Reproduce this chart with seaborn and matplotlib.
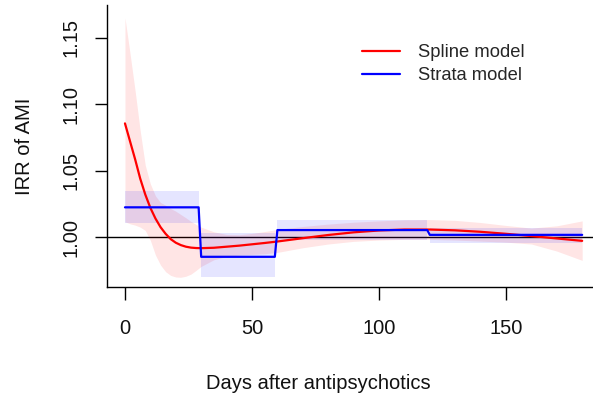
import numpy as np
import pandas as pd
import matplotlib
matplotlib.use("Agg")
import matplotlib.pyplot as plt
import seaborn as sns

# ---- Data ----
spline_day = [0, 2, 4, 6, 8, 10, 12, 14, 16, 18, 20, 22, 24, 26, 28, 30,
              35, 40, 45, 50, 55, 60, 70, 80, 90, 100, 110, 120, 130, 140, 150,
              160, 170, 180]
spline_irr = [1.0855, 1.0720, 1.0585, 1.0440, 1.0320, 1.0220, 1.0140,
              1.0075, 1.0025, 0.9985, 0.9958, 0.9940, 0.9928, 0.9921,
              0.9918, 0.9917, 0.9920, 0.9928, 0.9936, 0.9946, 0.9956, 0.9967,
              0.9992, 1.0016, 1.0036, 1.0050, 1.0057, 1.0057, 1.0051, 1.0040,
              1.0025, 1.0008, 0.9990, 0.9972]
spline_lower = [1.0115, 1.0100, 1.0090, 1.0075, 1.0050, 0.9975, 0.9865,
                0.9790, 0.9740, 0.9712, 0.9700, 0.9698, 0.9706, 0.9722,
                0.9750, 0.9780, 0.9830, 0.9855, 0.9865, 0.9870, 0.9875, 0.9885,
                0.9920, 0.9948, 0.9968, 0.9978, 0.9983, 0.9983, 0.9978, 0.9970,
                0.9962, 0.9948, 0.9895, 0.9825]
spline_upper = [1.1650, 1.1380, 1.1100, 1.0800, 1.0540, 1.0400, 1.0310,
                1.0260, 1.0240, 1.0215, 1.0195, 1.0170, 1.0145, 1.0118,
                1.0095, 1.0075, 1.0040, 1.0020, 1.0018, 1.0028, 1.0042, 1.0058,
                1.0080, 1.0098, 1.0112, 1.0122, 1.0130, 1.0132, 1.0126, 1.0110,
                1.0088, 1.0068, 1.0085, 1.0122]

strata_start = [0, 30, 60, 120]
strata_end = [29, 59, 119, 180]
strata_irr = [1.0224, 0.9852, 1.0053, 1.0017]
strata_lower = [1.0107, 0.9698, 0.9980, 0.9958]
strata_upper = [1.0345, 1.0030, 1.0125, 1.0068]

x_ticks = [0, 50, 100, 150]
y_ticks = [1.00, 1.05, 1.10, 1.15]
y_ticklabels = ["1.00", "1.05", "1.10", "1.15"]

# ---- Style ----
sns.set_theme(style="ticks")
plt.rcParams["font.family"] = ["Liberation Sans", "DejaVu Sans"]

fig = plt.figure(figsize=(5.93, 3.93), dpi=100)
ax = fig.add_axes([0.1799, 0.2697, 0.8327, 0.7176])

# reference line at IRR = 1
ax.axhline(1.0, color="black", lw=1.0, zorder=1)

# spline model
spline_df = pd.DataFrame({"day": spline_day, "irr": spline_irr,
                          "lo": spline_lower, "hi": spline_upper})
ax.fill_between(spline_df["day"], spline_df["lo"], spline_df["hi"],
                color="red", alpha=0.1, lw=0, zorder=2)

# strata model (piecewise constant)
sx, sy = [], []
for s, e, v, lo, hi in zip(strata_start, strata_end, strata_irr,
                           strata_lower, strata_upper):
    ax.fill_between([s, e], [lo, lo], [hi, hi], color="blue", alpha=0.1,
                    lw=0, zorder=2)
    sx += [s, e]
    sy += [v, v]
strata_df = pd.DataFrame({"day": sx, "irr": sy})

sns.lineplot(data=spline_df, x="day", y="irr", color="red", lw=1.6,
             estimator=None, sort=False, ax=ax, label="Spline model", zorder=3)
sns.lineplot(data=strata_df, x="day", y="irr", color="blue", lw=1.6,
             estimator=None, sort=False, ax=ax, label="Strata model", zorder=3)

ax.set_xlim(-7.2, 187.2)
ax.set_ylim(0.9625, 1.1745)
ax.set_xticks(x_ticks)
ax.set_yticks(y_ticks)
ax.set_yticklabels(y_ticklabels, rotation=90, va="center")

for side in ["top", "right"]:
    ax.spines[side].set_visible(False)
for side in ["left", "bottom"]:
    ax.spines[side].set_linewidth(1.0)
    ax.spines[side].set_color("black")

ax.tick_params(axis="both", direction="out", length=9, width=1.0,
               colors="black", labelsize=14.5, labelcolor="#111111")
ax.tick_params(axis="x", pad=14)
ax.tick_params(axis="y", pad=10)

ax.set_xlabel("Days after antipsychotics", fontsize=14.5, color="#111111")
ax.set_ylabel("IRR of AMI", fontsize=14.5, color="#111111")
ax.xaxis.set_label_coords(0.4283, -0.309)
ax.yaxis.set_label_coords(-0.148, 0.5)

ax.legend(loc="upper left", bbox_to_anchor=(0.6105, 0.888),
          bbox_transform=fig.transFigure, frameon=False, fontsize=13.2,
          handlelength=2.07, handletextpad=0.98, borderpad=0,
          borderaxespad=0, labelspacing=0.33)

ax.set_facecolor("white")
fig.patch.set_facecolor("white")
fig.savefig("out.png", dpi=100)
